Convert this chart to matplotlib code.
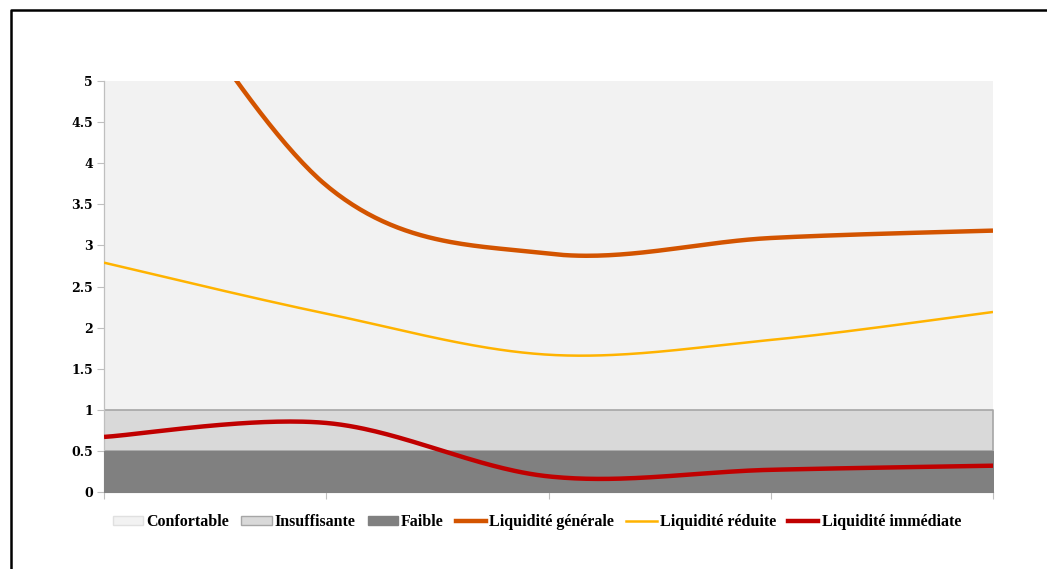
import numpy as np
import matplotlib
matplotlib.use("Agg")
import matplotlib.pyplot as plt
from matplotlib.patches import Patch
from matplotlib.lines import Line2D

# Five periods on the category axis (no labels shown)
periods = [0, 1, 2, 3, 4]

# Stacked reference bands
faible = [0.5, 0.5, 0.5, 0.5, 0.5]
insuffisante = [0.5, 0.5, 0.5, 0.5, 0.5]
confortable = [4.0, 4.0, 4.0, 4.0, 4.0]

# Liquidity ratios
liq_generale = [7.4, 3.73, 2.90, 3.09, 3.18]
liq_reduite = [2.79, 2.17, 1.67, 1.85, 2.19]
liq_immediate = [0.67, 0.84, 0.19, 0.27, 0.32]

y_ticks = [0, 0.5, 1, 1.5, 2, 2.5, 3, 3.5, 4, 4.5, 5]
y_tick_labels = ["0", "0.5", "1", "1.5", "2", "2.5", "3", "3.5", "4", "4.5", "5"]


def smooth(xs, ys, n=60):
    """Cubic Bezier smoothing through every point (Catmull-Rom tangents)."""
    p = np.column_stack([xs, ys]).astype(float)
    ext = np.vstack([p[0], p, p[-1]])
    out = []
    for i in range(len(p) - 1):
        p0, p1 = ext[i + 1], ext[i + 2]
        c1 = p0 + (ext[i + 2] - ext[i]) / 6.0
        c2 = p1 - (ext[i + 3] - ext[i + 1]) / 6.0
        t = np.linspace(0, 1, n)[:, None]
        seg = ((1 - t) ** 3) * p0 + 3 * ((1 - t) ** 2) * t * c1 \
            + 3 * (1 - t) * t ** 2 * c2 + t ** 3 * p1
        out.append(seg if i == 0 else seg[1:])
    s = np.vstack(out)
    return s[:, 0], s[:, 1]


W, H = 1047, 569
fig = plt.figure(figsize=(W / 100, H / 100), dpi=100)
ax = fig.add_axes([104 / W, (H - 492) / H, (993 - 104) / W, (492 - 81) / H])

x = np.array(periods, dtype=float)
b1 = np.array(faible)
b2 = b1 + np.array(insuffisante)
b3 = b2 + np.array(confortable)

ax.fill_between(x, b2, b3, color="#F2F2F2", linewidth=0, zorder=1)
ax.fill_between(x, b1, b2, facecolor="#D9D9D9", edgecolor="#A6A6A6",
                linewidth=1.2, zorder=2)
ax.fill_between(x, 0, b1, facecolor="#808080", edgecolor="#808080",
                linewidth=0.8, zorder=3)

gx, gy = smooth(x, liq_generale)
rx, ry = smooth(x, liq_reduite)
ix, iy = smooth(x, liq_immediate)
ax.plot(gx, gy, color="#D35400", linewidth=3.2, solid_capstyle="butt", zorder=5)
ax.plot(rx, ry, color="#FFB300", linewidth=1.8, solid_capstyle="butt", zorder=5)
ax.plot(ix, iy, color="#C00000", linewidth=3.2, solid_capstyle="butt", zorder=6)

ax.set_xlim(0, 4)
ax.set_ylim(0, 5)
ax.set_yticks(y_ticks)
ax.set_yticklabels(y_tick_labels, fontsize=9, family="DejaVu Serif", weight="bold")
ax.set_xticks(periods)
ax.set_xticklabels([])
ax.tick_params(axis="y", length=5, width=0.8, color="#BFBFBF", pad=3)
ax.tick_params(axis="x", length=5, width=0.8, color="#BFBFBF")
for side in ("top", "right"):
    ax.spines[side].set_visible(False)
for side in ("left", "bottom"):
    ax.spines[side].set_color("#BFBFBF")
    ax.spines[side].set_linewidth(0.9)

handles = [
    Patch(facecolor="#F2F2F2", edgecolor="#E0E0E0", label="Confortable"),
    Patch(facecolor="#D9D9D9", edgecolor="#A6A6A6", label="Insuffisante"),
    Patch(facecolor="#808080", edgecolor="#808080", label="Faible"),
    Line2D([], [], color="#D35400", linewidth=3.2, label="Liquidité générale"),
    Line2D([], [], color="#FFB300", linewidth=1.8, label="Liquidité réduite"),
    Line2D([], [], color="#C00000", linewidth=3.2, label="Liquidité immédiate"),
]
fig.legend(handles=handles, loc="center", bbox_to_anchor=(537 / W, (H - 522) / H),
           ncol=6, frameon=False,
           prop=dict(family="Liberation Serif", weight="bold", size=11.5),
           handlelength=1.9, handleheight=0.45, handletextpad=0.2, columnspacing=0.75)

# Outer frame (left and top edges)
fig.add_artist(Line2D([10.5 / W, 10.5 / W, 1.0], [0.0, 1 - 10 / H, 1 - 10 / H],
                      transform=fig.transFigure, color="black", linewidth=1.8))

fig.savefig("out.png", dpi=100, facecolor="white")
